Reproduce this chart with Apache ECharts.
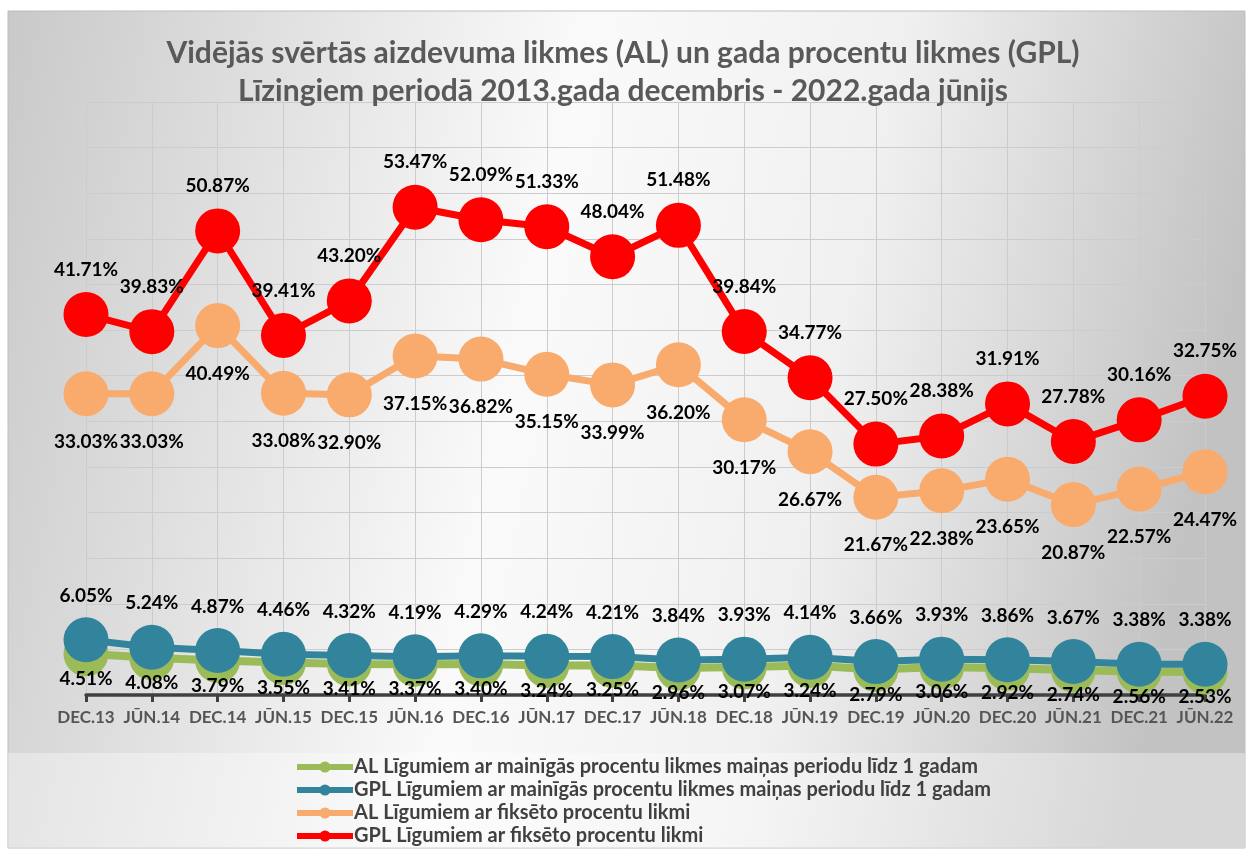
<!DOCTYPE html>
<html>
<head>
<meta charset="utf-8">
<script src="https://cdn.jsdelivr.net/npm/echarts@6/dist/echarts.min.js"></script>
<style>
  html, body { margin: 0; padding: 0; background: #fff; }
  #chart { width: 1246px; height: 855px; }
</style>
</head>
<body>
<div id="chart"></div>
<script>
// kategorijas (pusgadi)
var periods = ['DEC.13', 'JŪN.14', 'DEC.14', 'JŪN.15', 'DEC.15', 'JŪN.16', 'DEC.16', 'JŪN.17', 'DEC.17',
    'JŪN.18', 'DEC.18', 'JŪN.19', 'DEC.19', 'JŪN.20', 'DEC.20', 'JŪN.21', 'DEC.21', 'JŪN.22'];

// AL - mainīgā likme līdz 1 gadam
var alMainiga = [4.51, 4.08, 3.79, 3.55, 3.41, 3.37, 3.40, 3.24, 3.25, 2.96, 3.07, 3.24, 2.79, 3.06, 2.92, 2.74, 2.56, 2.53];
// GPL - mainīgā likme līdz 1 gadam
var gplMainiga = [6.05, 5.24, 4.87, 4.46, 4.32, 4.19, 4.29, 4.24, 4.21, 3.84, 3.93, 4.14, 3.66, 3.93, 3.86, 3.67, 3.38, 3.38];
// AL - fiksētā likme
var alFikseta = [33.03, 33.03, 40.49, 33.08, 32.90, 37.15, 36.82, 35.15, 33.99, 36.20, 30.17, 26.67, 21.67, 22.38, 23.65, 20.87, 22.57, 24.47];
// GPL - fiksētā likme
var gplFikseta = [41.71, 39.83, 50.87, 39.41, 43.20, 53.47, 52.09, 51.33, 48.04, 51.48, 39.84, 34.77, 27.50, 28.38, 31.91, 27.78, 30.16, 32.75];

var seriesNames = [
    'AL Līgumiem ar mainīgās procentu likmes maiņas periodu līdz 1 gadam',
    'GPL Līgumiem ar mainīgās procentu likmes maiņas periodu līdz 1 gadam',
    'AL Līgumiem ar fiksēto procentu likmi',
    'GPL Līgumiem ar fiksēto procentu likmi'
];

var chart = echarts.init(document.getElementById('chart'));

var fontName = 'Lato, "Open Sans", sans-serif';

let lineSeries = function (name, data, color, pos, dist, lw) {
    return {
        name: name,
        type: 'line',
        data: data,
        symbol: 'circle',
        symbolSize: 45,
        showAllSymbol: true,
        itemStyle: { color: color },
        lineStyle: { color: color, width: lw },
        label: {
            show: true,
            position: pos,
            distance: dist,
            formatter: function (p) { return p.value.toFixed(2) + '%'; },
            color: '#000',
            fontFamily: fontName,
            fontWeight: 'bold',
            fontSize: 19
        },
        emphasis: { disabled: true },
        animation: false
    };
};

var option = {
    animation: false,
    graphic: [
        {
            type: 'rect',
            shape: { x: 8, y: 11, width: 1237, height: 837 },
            style: {
                fill: new echarts.graphic.LinearGradient(0, 0, 1, 0.3, [
                    { offset: 0, color: '#c9c9c9' },
                    { offset: 0.45, color: '#fafafa' },
                    { offset: 0.7, color: '#f0f0f0' },
                    { offset: 1, color: '#c2c2c2' }
                ]),
                stroke: '#bdbdbd',
                lineWidth: 1
            },
            z: -10
        },
        {
            type: 'rect',
            shape: { x: 8, y: 753, width: 1237, height: 95 },
            style: { fill: 'rgba(255,255,255,0.35)' },
            z: -9
        }
    ],
    title: {
        text: 'Vidējās svērtās aizdevuma likmes (AL) un gada procentu likmes (GPL)\nLīzingiem periodā 2013.gada decembris - 2022.gada jūnijs',
        left: 'center',
        top: 29,
        textStyle: {
            fontFamily: fontName,
            fontSize: 30,
            fontWeight: 'bold',
            color: '#595959',
            lineHeight: 38
        }
    },
    legend: {
        orient: 'vertical',
        left: 289,
        top: 752,
        itemWidth: 56,
        itemHeight: 14,
        itemGap: 3,
        data: seriesNames,
        lineStyle: { width: 6 },
        textStyle: {
            fontFamily: fontName,
            fontSize: 20,
            lineHeight: 20,
            fontWeight: 'bold',
            color: '#404040',
            padding: [0, 0, 0, -4]
        }
    },
    grid: {
        left: 86,
        right: 41,
        top: 102,
        bottom: 160
    },
    xAxis: {
        type: 'category',
        data: periods,
        boundaryGap: false,
        axisLine: { lineStyle: { color: '#404040', width: 3.5 } },
        axisTick: { show: true, interval: 0, length: 7, lineStyle: { color: '#404040', width: 3 } },
        axisLabel: {
            interval: 0,
            margin: 14,
            fontFamily: fontName,
            fontSize: 17,
            fontWeight: 'bold',
            color: '#555555'
        },
        splitLine: { show: true, interval: 0, lineStyle: { color: '#cccccc', width: 1 } }
    },
    yAxis: {
        type: 'value',
        min: 0,
        max: 65,
        interval: 5,
        axisLine: { show: false },
        axisTick: { show: false },
        axisLabel: { show: false },
        splitLine: { show: true, lineStyle: { color: '#cccccc', width: 1 } }
    },
    series: [
        lineSeries(seriesNames[0], alMainiga, '#9bbb59', 'bottom', -7, 8),
        lineSeries(seriesNames[1], gplMainiga, '#31849b', 'top', 12, 7),
        lineSeries(seriesNames[2], alFikseta, '#f9ab6d', 'bottom', 16, 7),
        lineSeries(seriesNames[3], gplFikseta, '#ff0000', 'top', 13, 7)
    ]
};

chart.setOption(option);
</script>
</body>
</html>
